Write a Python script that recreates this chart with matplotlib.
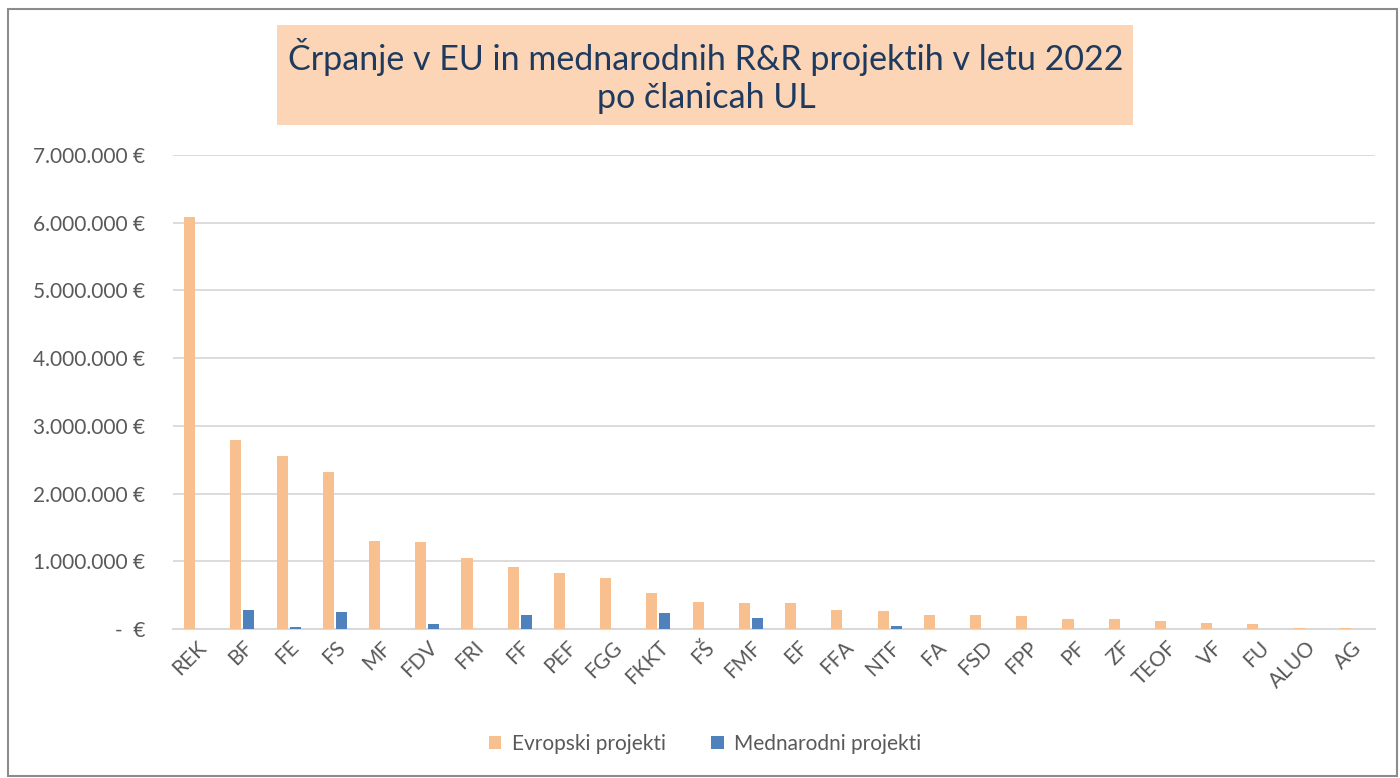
import matplotlib
matplotlib.use("Agg")
import matplotlib.pyplot as plt
import numpy as np
from matplotlib.patches import Rectangle
from matplotlib.ticker import FuncFormatter

plt.rcParams['font.family'] = ['Lato', 'DejaVu Sans']

# data (EUR)
clanice = ["REK", "BF", "FE", "FS", "MF", "FDV", "FRI", "FF", "PEF", "FGG", "FKKT", "FŠ", "FMF",
           "EF", "FFA", "NTF", "FA", "FSD", "FPP", "PF", "ZF", "TEOF", "VF", "FU", "ALUO", "AG"]
evropski = [6080000, 2790000, 2550000, 2320000, 1300000, 1280000, 1050000, 910000, 820000, 750000,
            530000, 400000, 380000, 380000, 280000, 260000, 210000, 200000, 190000, 150000,
            150000, 120000, 90000, 70000, 10000, 10000]
mednarodni = [0, 280000, 30000, 250000, 0, 80000, 0, 210000, 0, 0,
              240000, 0, 160000, 0, 0, 40000, 0, 0, 0, 0,
              0, 0, 0, 0, 0, 0]
yticks = [0, 1000000, 2000000, 3000000, 4000000, 5000000, 6000000, 7000000]

orange = "#F9C08F"
blue = "#4F81BD"
txt = "#595959"

fig = plt.figure(figsize=(14, 7.78), dpi=100)
ax = fig.add_axes([173/1400, 1-629/778, (1375-173)/1400, (629-155)/778])

x = np.arange(len(clanice))
w = 0.24
ax.bar(x - 0.14, evropski, w, color=orange, label="Evropski projekti", zorder=3)
ax.bar(x + 0.14, mednarodni, w, color=blue, label="Mednarodni projekti", zorder=3)

ax.set_xlim(-0.5, len(clanice) - 0.5)
ax.set_ylim(0, 7000000)
ax.set_yticks(yticks)

def fmt(v, pos):
    if v == 0:
        return "-  €"
    return f"{int(v):,}".replace(",", ".") + " €"

ax.yaxis.set_major_formatter(FuncFormatter(fmt))
ax.grid(axis="y", color="#D9D9D9", linewidth=1.3, zorder=0)
for s in ["top", "right", "left"]:
    ax.spines[s].set_visible(False)
ax.spines["bottom"].set_color("#D9D9D9")
ax.spines["bottom"].set_linewidth(1.5)
ax.tick_params(axis="y", length=0, pad=20, labelsize=15, labelcolor=txt)
ax.tick_params(axis="x", length=0, pad=6, labelsize=15, labelcolor=txt)
ax.set_xticks(x)
ax.set_xticklabels(clanice, rotation=45, ha="right", rotation_mode="anchor")

# title box
fig.patches.append(Rectangle((277/1400, 1-125/778), 856/1400, 100/778,
                             transform=fig.transFigure, facecolor="#FBD5B5", edgecolor="none"))
fig.text(706/1400, 1-76/778, "Črpanje v EU in mednarodnih R&R projektih v letu 2022\npo članicah UL",
         ha="center", va="center", fontsize=24.5, color="#1F3A5F", linespacing=1.2)

# outer border
fig.patches.append(Rectangle((8/1400, 1-776/778), 1389/1400, 767/778,
                             transform=fig.transFigure, facecolor="none", edgecolor="#8C8C8C", linewidth=1.5))

fig.legend(loc="center", bbox_to_anchor=(705/1400, 1-744/778), ncol=2, frameon=False,
           fontsize=15, labelcolor=txt, handlelength=0.6, handleheight=0.6, columnspacing=2.2,
           handletextpad=0.5)

fig.savefig("out.png", dpi=100)
